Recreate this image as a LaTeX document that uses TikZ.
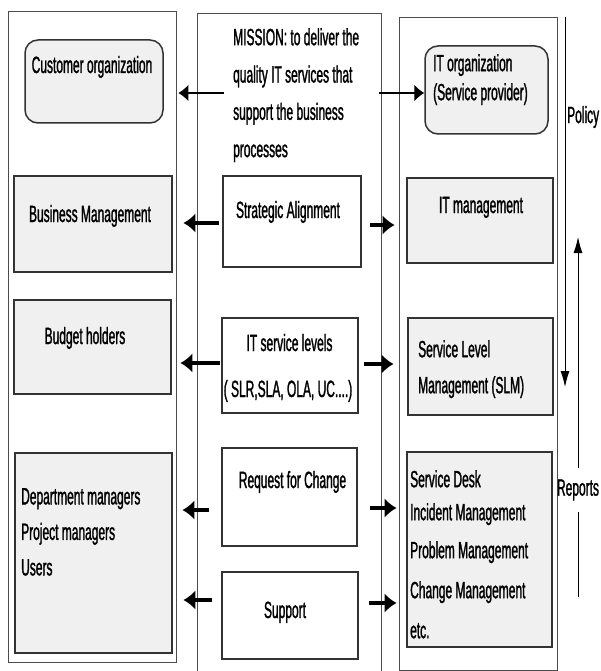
\documentclass[tikz,border=0pt]{standalone}
\usepackage{fontspec}
\setmainfont{Liberation Sans}[FakeStretch=0.51, FakeBold=1.2]
\usetikzlibrary{arrows.meta}
\newcommand{\shaded}{\node[shape=rectangle, draw=black!80, line width=1.5pt, fill=black!6, inner sep=0pt]}
\newcommand{\plain}{\node[shape=rectangle, draw=black!80, line width=1.5pt, fill=white, inner sep=0pt]}
\newcommand{\roundbox}{\node[shape=rectangle, rounded corners=13pt, draw=black!80, line width=1.5pt, fill=black!6, inner sep=0pt]}
\newcommand{\column}{\node[shape=rectangle, draw=black!70, line width=0.9pt, inner sep=0pt]}

\begin{document}
\begin{tikzpicture}[x=1pt, y=-1pt, font=\fontsize{23.5}{37}\selectfont,
    bigarrow/.style={line width=3.8pt, -{Latex[length=12pt,width=20pt]}},
    thinarrow/.style={line width=1.1pt, -{Latex[length=10pt,width=17pt]}},
    sidearrow/.style={line width=0.9pt, -{Latex[length=16pt,width=9pt]}},
    txt/.style={inner sep=0pt}]
    \useasboundingbox (0,0) rectangle (601,671);
    % the three columns
    \column[minimum width=168pt, minimum height=651pt] (cust) at (92,336.5) {};
    \column[minimum width=158pt, minimum height=653pt] (prov) at (478,343.5) {};
    \coordinate (mBL) at (197,671);
    \coordinate (mTL) at (197,13);
    \coordinate (mTR) at (381,13);
    \coordinate (mBR) at (381,671);
    \draw[draw=black!70, line width=0.9pt] (mBL) -- (mTL) -- (mTR) -- (mBR);

    % customer side
    \roundbox[minimum width=138pt, minimum height=83pt] (org) at (94,81.5) {};
    \shaded[minimum width=158pt, minimum height=96pt] (bm) at (93,224) {};
    \shaded[minimum width=157pt, minimum height=94pt] (bh) at (92.5,347) {};
    \shaded[minimum width=157pt, minimum height=200pt] (dm) at (93.5,553) {};
    \node[txt, anchor=base] (orgT) at (92,73) {Customer organization};
    \node[txt, anchor=base] (bmT) at (90,222) {Business Management};
    \node[txt, anchor=base] (bhT) at (85,344) {Budget holders};
    \node[txt, anchor=north west, align=left, font=\fontsize{23.5}{35.5}\selectfont] (dmT) at (21,488)
        {Department managers\\Project managers\\Users};

    % middle
    \node[txt, anchor=north west, align=left, font=\fontsize{23.5}{37.3}\selectfont] (mission) at (233,28)
        {MISSION: to deliver the\\quality IT services that\\support the business\\processes};
    \plain[minimum width=138pt, minimum height=91pt] (sa) at (292,221.5) {};
    \plain[minimum width=136pt, minimum height=95pt] (sl) at (290,365.5) {};
    \plain[minimum width=135pt, minimum height=98pt] (rfc) at (289.5,497) {};
    \plain[minimum width=136pt, minimum height=87pt] (sup) at (290,615.5) {};
    \node[txt, anchor=base] (saT) at (288,218) {Strategic Alignment};
    \node[txt, anchor=base] (slT) at (289.5,351) {IT service levels};
    \node[txt, anchor=base] (slT2) at (288,397) {( SLR,SLA, OLA, UC....)};
    \node[txt, anchor=base] (rfcT) at (292.5,488) {Request for Change};
    \node[txt, anchor=base] (supT) at (285,618) {Support};

    % provider side
    \roundbox[minimum width=123pt, minimum height=88pt] (ito) at (486.5,90) {};
    \shaded[minimum width=146pt, minimum height=85pt] (itm) at (480,220.5) {};
    \shaded[minimum width=145pt, minimum height=97pt] (slm) at (480.5,366.5) {};
    \shaded[minimum width=145pt, minimum height=195pt] (sd) at (479.5,549.5) {};
    \node[txt, anchor=north west, align=left, font=\fontsize{23.5}{29}\selectfont] (itoT) at (433,54)
        {IT organization\\(Service provider)};
    \node[txt, anchor=base] (itmT) at (481,213) {IT management};
    \node[txt, anchor=north west, align=left, font=\fontsize{23.5}{36}\selectfont] (slmT) at (418,340)
        {Service Level\\Management (SLM)};
    \node[txt, anchor=north west, align=left, font=\fontsize{23.5}{33}\selectfont] (sdT) at (410,470)
        {Service Desk\\Incident Management\\[5pt]Problem Management\\[7pt]Change Management\\[7pt]etc.};

    % arrows out of the middle column
    \coordinate (missL) at (224,93);
    \coordinate (missR) at (379,93);
    \draw[thinarrow, shorten >=2pt] (missL) -- (missL -| cust.east);
    \draw[thinarrow] (missR) -- (missR -| ito.west);
    \coordinate (saL) at (219,223);
    \coordinate (saR) at (370,225);
    \coordinate (slL) at (220,363);
    \coordinate (slR) at (364,364);
    \coordinate (rfcL) at (209,510);
    \coordinate (rfcR) at (370,508);
    \coordinate (supL) at (212,600);
    \coordinate (supR) at (369,603);
    \draw[bigarrow, shorten >=7pt] (saL) -- (saL -| cust.east);
    \draw[bigarrow, shorten >=4pt] (saR) -- (saR -| prov.west);
    \draw[bigarrow, shorten >=4pt] (slL) -- (slL -| cust.east);
    \draw[bigarrow, shorten >=5pt] (slR) -- (slR -| prov.west);
    \draw[bigarrow, shorten >=6pt] (rfcL) -- (rfcL -| cust.east);
    \draw[bigarrow, shorten >=2pt] (rfcR) -- (rfcR -| prov.west);
    \draw[bigarrow, shorten >=7pt] (supL) -- (supL -| cust.east);
    \draw[bigarrow, shorten >=2pt] (supR) -- (supR -| prov.west);

    % policy and reports
    \coordinate (polTop) at (565,17);
    \coordinate (polEnd) at (565,387);
    \draw[sidearrow] (polTop) -- (polEnd);
    \node[txt, anchor=west] (pol) at (567,117) {Policy};
    \node[txt, inner ysep=11pt] (rep) at (578,490) {Reports};
    \coordinate (repBot) at (578,597);
    \coordinate (repTop) at (578,237);
    \draw[line width=0.9pt] (repBot) -- (repBot |- rep.south);
    \draw[sidearrow] (repTop |- rep.north) -- (repTop);
\end{tikzpicture}
\end{document}
